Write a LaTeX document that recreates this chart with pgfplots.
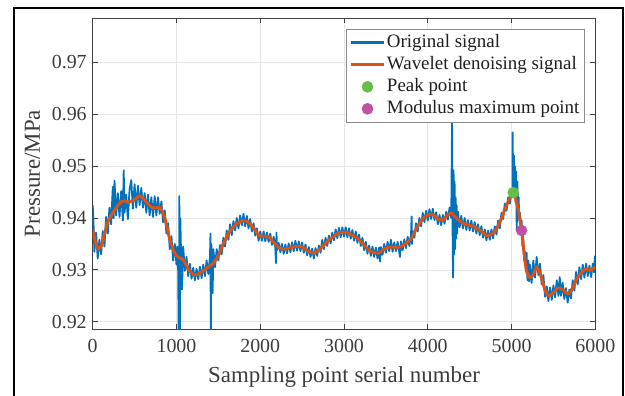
\documentclass[border=0pt]{standalone}
\usepackage{pgfplots}
\pgfplotsset{compat=1.18}
\usepackage{pgfplotstable}
\usepackage{fontspec}
\setmainfont{Liberation Serif}
\definecolor{mblue}{RGB}{0,114,189}
\definecolor{mred}{RGB}{217,83,25}
\definecolor{mgreen}{RGB}{104,189,69}
\definecolor{mmag}{RGB}{190,80,165}
\definecolor{axgray}{RGB}{64,64,64}
\definecolor{txgray}{RGB}{60,60,60}
\pgfplotsset{
  lineleg/.style={legend image code/.code={\draw[##1, line width=3bp] (0bp,0bp) -- (33bp,0bp);}},
  dotleg/.style={legend image code/.code={\draw[##1] plot coordinates {(16.5bp,0bp)};}},
}

\pgfplotstableread{
s v
0 .9425
8 .9400
20 .9335
40 .9372
60 .9322
80 .9358
100 .9330
120 .9375
140 .9345
160 .9402
180 .9370
200 .9420
220 .9388
240 .9460
250 .9400
260 .9472
280 .9405
300 .9448
320 .9402
340 .9452
360 .9395
370 .9492
380 .9410
400 .9445
420 .9398
440 .9455
460 .9473
480 .9418
500 .9465
520 .9420
540 .9462
560 .9425
580 .9458
600 .9420
620 .9448
640 .9410
660 .9445
680 .9405
700 .9440
720 .9402
740 .9442
760 .9405
780 .9440
800 .9408
820 .9432
840 .9392
860 .9415
880 .9370
900 .9390
920 .9340
940 .9365
960 .9318
980 .9350
1000 .9310
1010 .9345
1020 .9300
1028 .9150
1034 .9442
1040 .9150
1046 .9400
1060 .9290
1066 .9262
1080 .9345
1100 .9298
1120 .9325
1140 .9288
1160 .9312
1180 .9283
1200 .9304
1220 .9280
1240 .9302
1260 .9282
1280 .9306
1300 .9284
1320 .9310
1340 .9288
1360 .9318
1380 .9292
1400 .9325
1406 .9370
1410 .9150
1416 .9350
1425 .9300
1432 .9255
1440 .9340
1460 .9305
1480 .9340
1500 .9318
1520 .9348
1540 .9330
1560 .9362
1580 .9345
1600 .9376
1620 .9358
1640 .9388
1660 .9367
1680 .9394
1700 .9376
1720 .9400
1740 .9380
1760 .9405
1780 .9386
1800 .9408
1820 .9384
1840 .9404
1860 .9380
1880 .9398
1900 .9374
1920 .9390
1940 .9366
1960 .9380
1980 .9356
2000 .9374
2020 .9356
2040 .9374
2060 .9355
2080 .9372
2100 .9354
2120 .9370
2140 .9348
2160 .9364
2180 .9343
2188 .9313
2194 .9372
2200 .9338
2220 .9352
2240 .9334
2260 .9350
2280 .9331
2300 .9349
2320 .9332
2340 .9351
2360 .9334
2380 .9353
2400 .9336
2420 .9356
2440 .9337
2460 .9355
2480 .9336
2500 .9353
2520 .9333
2540 .9349
2560 .9328
2580 .9344
2600 .9325
2620 .9341
2640 .9322
2660 .9342
2680 .9327
2700 .9347
2720 .9333
2740 .9358
2760 .9340
2780 .9362
2800 .9346
2820 .9366
2840 .9351
2860 .9372
2880 .9357
2900 .9378
2920 .9361
2940 .9381
2960 .9363
2980 .9382
3000 .9364
3020 .9382
3040 .9363
3060 .9380
3080 .9360
3100 .9377
3120 .9356
3140 .9374
3160 .9352
3180 .9368
3200 .9346
3220 .9362
3240 .9338
3260 .9354
3280 .9331
3300 .9347
3320 .9327
3340 .9345
3360 .9325
3380 .9343
3400 .9322
3420 .9343
3430 .9316
3440 .9344
3460 .9329
3480 .9350
3500 .9333
3520 .9354
3540 .9336
3560 .9358
3580 .9335
3600 .9353
3620 .9336
3640 .9354
3660 .9334
3668 .9325
3680 .9355
3700 .9338
3720 .9359
3740 .9342
3760 .9364
3780 .9346
3800 .9368
3807 .9403
3812 .9350
3820 .9375
3840 .9362
3860 .9390
3880 .9374
3900 .9400
3920 .9384
3940 .9410
3960 .9392
3980 .9414
4000 .9395
4020 .9417
4040 .9398
4060 .9418
4080 .9396
4100 .9411
4120 .9388
4140 .9406
4160 .9386
4180 .9406
4200 .9389
4220 .9412
4240 .9397
4260 .9420
4280 .9400
4290 .9590
4296 .9380
4302 .9285
4308 .9492
4314 .9330
4320 .9470
4326 .9340
4332 .9440
4338 .9360
4344 .9425
4350 .9370
4360 .9412
4380 .9382
4400 .9404
4420 .9380
4440 .9400
4460 .9377
4480 .9396
4500 .9376
4520 .9395
4540 .9374
4560 .9392
4580 .9370
4600 .9388
4620 .9367
4640 .9384
4660 .9362
4680 .9378
4700 .9357
4720 .9376
4740 .9358
4760 .9378
4780 .9361
4800 .9384
4820 .9368
4840 .9395
4860 .9380
4880 .9410
4900 .9398
4920 .9428
4940 .9414
4960 .9440
4980 .9428
5000 .9452
5010 .9440
5013 .9565
5020 .9455
5028 .9520
5035 .9445
5040 .9500
5048 .9430
5055 .9490
5062 .9375
5070 .9470
5078 .9400
5085 .9440
5092 .9395
5100 .9410
5110 .9370
5120 .9395
5130 .9345
5140 .9360
5150 .9318
5160 .9335
5170 .9300
5180 .9333
5190 .9280
5200 .9318
5210 .9278
5220 .9310
5240 .9275
5260 .9318
5280 .9285
5300 .9325
5320 .9290
5340 .9312
5360 .9272
5380 .9290
5400 .9248
5420 .9268
5440 .9240
5460 .9266
5480 .9242
5500 .9270
5520 .9247
5540 .9280
5560 .9250
5575 .9286
5590 .9250
5610 .9275
5630 .9244
5650 .9265
5670 .9237
5690 .9262
5710 .9245
5730 .9280
5750 .9260
5770 .9296
5790 .9272
5810 .9305
5830 .9282
5850 .9310
5870 .9285
5890 .9312
5910 .9288
5930 .9308
5950 .9286
5970 .9312
5985 .9295
5995 .9326
6000 .9318
}\origsig

\pgfplotstableread{
s v
0 .9377
30 .9355
64 .9340
100 .9345
124 .9358
150 .9375
183 .9394
220 .9405
263 .9416
300 .9424
343 .9432
380 .9433
422 .9430
482 .9434
520 .9438
562 .9443
600 .9438
641 .9430
680 .9424
721 .9419
760 .9420
800 .9421
830 .9413
860 .9400
890 .9381
920 .9358
960 .9339
1000 .9327
1040 .9323
1086 .9319
1120 .9308
1146 .9300
1180 .9294
1205 .9290
1240 .9291
1265 .9292
1325 .9299
1384 .9306
1444 .9313
1480 .9322
1504 .9329
1540 .9343
1563 .9352
1600 .9364
1623 .9371
1660 .9379
1703 .9387
1740 .9391
1782 .9395
1842 .9394
1880 .9388
1922 .9381
1960 .9371
2001 .9364
2050 .9365
2108 .9363
2140 .9357
2168 .9352
2200 .9346
2228 .9342
2307 .9340
2387 .9344
2466 .9346
2526 .9342
2560 .9337
2586 .9335
2645 .9332
2680 .9336
2705 .9339
2745 .9345
2785 .9352
2820 .9358
2864 .9363
2900 .9368
2944 .9372
3015 .9373
3060 .9370
3111 .9366
3150 .9362
3191 .9357
3230 .9349
3270 .9342
3310 .9336
3350 .9334
3410 .9332
3440 .9335
3469 .9339
3529 .9344
3589 .9344
3668 .9344
3710 .9348
3748 .9352
3780 .9357
3807 .9361
3840 .9372
3867 .9381
3910 .9392
3947 .9400
3990 .9405
4046 .9408
4090 .9403
4126 .9397
4186 .9396
4230 .9405
4285 .9410
4320 .9403
4365 .9396
4420 .9390
4464 .9387
4544 .9384
4600 .9378
4643 .9374
4690 .9367
4723 .9366
4760 .9369
4802 .9374
4840 .9385
4882 .9400
4920 .9417
4962 .9432
4990 .9441
5021 .9449
5050 .9437
5081 .9416
5100 .9398
5121 .9376
5135 .9355
5149 .9333
5165 .9312
5180 .9297
5200 .9289
5220 .9285
5240 .9287
5260 .9291
5280 .9299
5300 .9306
5320 .9302
5340 .9294
5360 .9283
5380 .9272
5400 .9261
5427 .9251
5450 .9251
5475 .9253
5499 .9256
5520 .9260
5540 .9264
5558 .9265
5580 .9265
5600 .9263
5618 .9262
5640 .9258
5660 .9255
5678 .9254
5700 .9257
5720 .9263
5737 .9268
5760 .9276
5780 .9283
5800 .9288
5817 .9291
5840 .9296
5860 .9299
5877 .9301
5900 .9301
5920 .9300
5936 .9299
5960 .9301
5980 .9303
6000 .9306
}\wavesig

\begin{document}
\begin{tikzpicture}[x=1bp,y=1bp]
\useasboundingbox (0,0) rectangle (625,395);
\draw[line width=2bp, black] (13.5,-5) -- (13.5,386.7) -- (623.3,386.7) -- (623.3,-5);
\begin{axis}[
  at={(92.7bp,66bp)}, anchor=south west,
  scale only axis, width=502.6bp, height=310.7bp,
  xmin=0, xmax=6000, ymin=0.9186, ymax=0.9785,
  xtick={0,1000,2000,3000,4000,5000,6000},
  ytick={0.92,0.93,0.94,0.95,0.96,0.97},
  scaled y ticks=false, scaled x ticks=false,
  /pgf/number format/assume math mode=true,
  xticklabel={\pgfmathprintnumber[assume math mode=true,1000 sep={}]{\tick}},
  yticklabel={\pgfmathprintnumber[assume math mode=true,fixed,fixed zerofill,precision=2]{\tick}},
  xticklabel style={yshift=-7bp},
  yticklabel style={xshift=-2.5bp},
  tick label style={font=\fontsize{20}{24}\selectfont, text=txgray},
  grid=major, major grid style={color=black!10, line width=0.6bp},
  tick align=inside, major tick length=5bp,
  axis line style={color=axgray, line width=0.8bp},
  tick style={color=axgray, line width=0.8bp},
  xlabel={Sampling point serial number},
  ylabel={Pressure/MPa},
  label style={font=\fontsize{23}{27}\selectfont, text=txgray},
  xlabel style={at={(axis description cs:0.5,-0.121)}, anchor=north, inner sep=0pt},
  ylabel style={at={(axis description cs:-0.12,0.5)}, anchor=center, inner sep=0pt},
  legend style={at={(0.978,0.9646)}, anchor=north east, draw=black!45, line width=0.6bp,
    fill=white, font=\fontsize{19}{22}\selectfont, text=black!88, inner xsep=3bp, inner ysep=3bp,
    nodes={inner sep=1.5bp, text height=13bp, text depth=4.5bp}, row sep=1.5bp},
  legend cell align=left,
]
\addplot[color=mblue, line width=1.8bp, line join=round, lineleg] table[x=s,y=v] {\origsig};
\addplot[color=mred, line width=3bp, line join=round, lineleg] table[x=s,y=v] {\wavesig};
\addplot[only marks, mark=*, mark size=5.5bp, color=mgreen, dotleg] coordinates {(5020,0.9449)};
\addplot[only marks, mark=*, mark size=5.5bp, color=mmag, dotleg] coordinates {(5120,0.9376)};
\legend{Original signal, Wavelet denoising signal, Peak point, Modulus maximum point}
\end{axis}
\end{tikzpicture}
\end{document}
